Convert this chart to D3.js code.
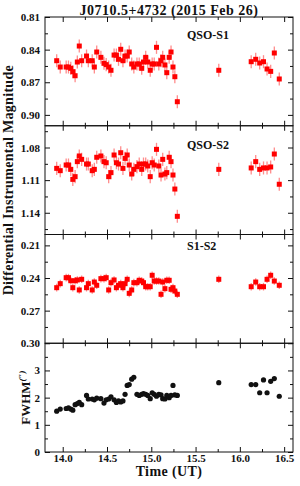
<!DOCTYPE html>
<meta charset="utf-8">
<head>
	<style>
		html, body { margin: 0; padding: 0; background: white; }
		svg text { font-family: "Liberation Serif", "DejaVu Serif", serif; font-weight: bold; fill: #111; }
		.domain { display: none; }
		.tick line { stroke: #111; stroke-width: 1; }
	</style>
	<script src="https://cdn.jsdelivr.net/npm/d3@7"></script>
</head>
<body>
<script>

// DATA
var time = [13.932, 13.972, 14.039, 14.065, 14.091, 14.114, 14.140, 14.165, 14.187, 14.214,
	14.269, 14.289, 14.333, 14.357, 14.384, 14.431, 14.466, 14.491, 14.519, 14.545,
	14.580, 14.606, 14.630, 14.655, 14.680, 14.704, 14.728, 14.751, 14.779, 14.803,
	14.838, 14.864, 14.892, 14.912, 14.937, 14.960, 14.988, 15.010, 15.033, 15.059,
	15.085, 15.110, 15.129, 15.154, 15.175, 15.202, 15.223, 15.245, 15.266, 15.294,
	15.762, 16.128, 16.179, 16.224, 16.267, 16.307, 16.348, 16.389, 16.445];

var qsoS1 = [0.8502, 0.8560, 0.8560, 0.8560, 0.8572, 0.8603, 0.8640, 0.8514, 0.8367, 0.8502,
	0.8459, 0.8502, 0.8502, 0.8560, 0.8422, 0.8471, 0.8526, 0.8538, 0.8560, 0.8590,
	0.8450, 0.8450, 0.8489, 0.8397, 0.8502, 0.8459, 0.8459, 0.8422, 0.8532, 0.8560,
	0.8532, 0.8532, 0.8572, 0.8514, 0.8471, 0.8514, 0.8590, 0.8532, 0.8532, 0.8379,
	0.8532, 0.8502, 0.8471, 0.8541, 0.8612, 0.8471, 0.8422, 0.8560, 0.8649, 0.8879,
	0.8590, 0.8511, 0.8489, 0.8523, 0.8511, 0.8578, 0.8600, 0.8431, 0.8670];

var qsoS2 = [1.0992, 1.1013, 1.0961, 1.0961, 1.1001, 1.1093, 1.1068, 1.0930, 1.0878, 1.0909,
	1.0952, 1.0952, 1.1013, 1.1001, 1.0890, 1.0878, 1.0930, 1.0940, 1.1068, 1.1031,
	1.0869, 1.0940, 1.0952, 1.0848, 1.0992, 1.0900, 1.0869, 1.0961, 1.1044, 1.1001,
	1.0976, 1.0952, 1.1001, 1.0952, 1.0952, 1.0970, 1.1068, 1.0940, 1.0961, 1.0817,
	1.0970, 1.1053, 1.0909, 1.1044, 1.1031, 1.0890, 1.0930, 1.1053, 1.1182, 1.1433,
	1.1001, 1.0988, 1.0930, 1.1001, 1.0988, 1.0988, 1.0979, 1.0860, 1.1138];

var s1s2 = [0.2489, 0.2452, 0.2397, 0.2397, 0.2425, 0.2489, 0.2425, 0.2418, 0.2510, 0.2412,
	0.2489, 0.2452, 0.2510, 0.2437, 0.2467, 0.2406, 0.2406, 0.2397, 0.2510, 0.2443,
	0.2418, 0.2489, 0.2467, 0.2452, 0.2489, 0.2452, 0.2412, 0.2541, 0.2510, 0.2443,
	0.2443, 0.2421, 0.2428, 0.2443, 0.2480, 0.2480, 0.2480, 0.2375, 0.2428, 0.2428,
	0.2428, 0.2550, 0.2437, 0.2498, 0.2421, 0.2421, 0.2504, 0.2489, 0.2520, 0.2550,
	0.2412, 0.2480, 0.2437, 0.2480, 0.2480, 0.2412, 0.2375, 0.2428, 0.2467];

var fwhm = [1.50, 1.58, 1.60, 1.62, 1.58, 1.54, 1.74, 1.78, 1.83, 1.74,
	2.08, 1.95, 1.95, 1.92, 1.98, 1.96, 1.80, 1.92, 1.95, 2.03,
	1.92, 1.82, 1.88, 1.84, 1.88, 2.12, 2.45, 2.48, 2.68, 2.75,
	2.12, 2.08, 2.12, 2.15, 2.12, 2.08, 1.96, 2.18, 2.12, 2.05,
	2.12, 2.10, 1.96, 1.95, 2.08, 2.00, 2.08, 2.45, 2.10, 2.08,
	2.55, 2.48, 2.48, 2.18, 2.65, 2.18, 2.60, 2.70, 2.05];

// typical photometric error per panel (mag)
var errS1 = 0.006, errS2 = 0.006, errS1S2 = 0.0035;

var xMajor = [14.0, 14.5, 15.0, 15.5, 16.0, 16.5],
	xMinor = [14.25, 14.75, 15.25, 15.75, 16.25];

var s1Major = [0.81, 0.84, 0.87, 0.90], s1Minor = [0.825, 0.855, 0.885];
var s2Major = [1.08, 1.11, 1.14], s2Minor = [1.065, 1.095, 1.125, 1.155];
var dMajor = [0.21, 0.24, 0.27, 0.30], dMinor = [0.225, 0.255, 0.285];
var fMajor = [0, 1, 2, 3], fMinor = [0.5, 1.5, 2.5, 3.5];

// SETUP
var W = 300, H = 486,
	plotLeft = 45, plotRight = 293, plotTop = 17, ph = 108.75;

var svg = d3.select('body').append('svg')
	.attr('width', W).attr('height', H);

var x = d3.scaleLinear().domain([13.8, 16.6]).range([plotLeft, plotRight]);

var panels = [
	{ vals: qsoS1, err: errS1, dom: [0.81, 0.91], major: s1Major, minor: s1Minor, fmt: '.2f', label: 'QSO-S1', ly: 22 },
	{ vals: qsoS2, err: errS2, dom: [1.06, 1.16], major: s2Major, minor: s2Minor, fmt: '.2f', label: 'QSO-S2', ly: 23 },
	{ vals: s1s2, err: errS1S2, dom: [0.20, 0.30], major: dMajor, minor: dMinor, fmt: '.2f', label: 'S1-S2', ly: 15 },
	{ vals: fwhm, err: null, dom: [0, 4], major: fMajor, minor: fMinor, fmt: 'd', label: null }
];

panels.forEach(function(p, i) {
	var y0 = plotTop + i * ph, y1 = y0 + ph;
	var y = i < 3
		? d3.scaleLinear().domain(p.dom).range([y0, y1])
		: d3.scaleLinear().domain(p.dom).range([y1, y0]);

	var g = svg.append('g');

	// ticks: left (labelled), right, top, bottom
	g.append('g').attr('transform', 'translate(' + plotLeft + ',0)')
		.call(d3.axisLeft(y).tickValues(p.major).tickSize(-5).tickPadding(5).tickFormat(d3.format(p.fmt)));
	g.append('g').attr('transform', 'translate(' + plotLeft + ',0)')
		.call(d3.axisLeft(y).tickValues(p.minor).tickSize(-3).tickFormat(''));
	g.append('g').attr('transform', 'translate(' + plotRight + ',0)')
		.call(d3.axisRight(y).tickValues(p.major).tickSize(-5).tickFormat(''));
	g.append('g').attr('transform', 'translate(' + plotRight + ',0)')
		.call(d3.axisRight(y).tickValues(p.minor).tickSize(-3).tickFormat(''));

	g.append('g').attr('transform', 'translate(0,' + y0 + ')')
		.call(d3.axisTop(x).tickValues(xMajor).tickSize(-5).tickFormat(''));
	g.append('g').attr('transform', 'translate(0,' + y0 + ')')
		.call(d3.axisTop(x).tickValues(xMinor).tickSize(-3).tickFormat(''));
	g.append('g').attr('transform', 'translate(0,' + y1 + ')')
		.call(d3.axisBottom(x).tickValues(xMajor).tickSize(-5).tickPadding(2)
			.tickFormat(i === 3 ? d3.format('.1f') : ''));
	g.append('g').attr('transform', 'translate(0,' + y1 + ')')
		.call(d3.axisBottom(x).tickValues(xMinor).tickSize(-3).tickFormat(''));

	g.selectAll('.tick text')
		.attr('fill', '#111')
		.attr('font-size', 11)
		.attr('font-family', null);

	// frame
	g.append('rect')
		.attr('x', plotLeft).attr('y', y0)
		.attr('width', plotRight - plotLeft).attr('height', ph)
		.attr('fill', 'none').attr('stroke', '#111').attr('stroke-width', 1);

	if (p.err !== null) {
		g.selectAll('.err')
			.data(p.vals).enter().append('line')
			.attr('class', 'err')
			.attr('x1', function(d, j) { return x(time[j]); })
			.attr('x2', function(d, j) { return x(time[j]); })
			.attr('y1', function(d) { return y(d - p.err); })
			.attr('y2', function(d) { return y(d + p.err); })
			.attr('stroke', '#ff8c8c').attr('stroke-width', 1.3);

		g.selectAll('.pt')
			.data(p.vals).enter().append('rect')
			.attr('class', 'pt')
			.attr('x', function(d, j) { return x(time[j]) - 2.5; })
			.attr('y', function(d) { return y(d) - 2.5; })
			.attr('width', 5).attr('height', 5)
			.attr('fill', '#ff0000');

		g.append('text')
			.attr('x', 187).attr('y', y0 + p.ly)
			.attr('font-size', 12)
			.text(p.label);
	} else {
		g.selectAll('.pt')
			.data(p.vals).enter().append('circle')
			.attr('cx', function(d, j) { return x(time[j]); })
			.attr('cy', function(d) { return y(d); })
			.attr('r', 2.6)
			.attr('fill', '#111');
	}
});

// TEXTS
svg.append('text')
	.attr('x', (plotLeft + plotRight) / 2).attr('y', 15)
	.attr('text-anchor', 'middle').attr('font-size', 14)
	.style('letter-spacing', '0.5px')
	.text('J0710.5+4732 (2015 Feb 26)');

svg.append('text')
	.attr('transform', 'translate(13,' + (plotTop + 1.5 * ph) + ') rotate(-90)')
	.attr('text-anchor', 'middle').attr('font-size', 14)
	.style('letter-spacing', '0.3px')
	.text('Differential Instrumental Magnitude');

var fl = svg.append('text')
	.attr('transform', 'translate(30,' + (plotTop + 3.5 * ph) + ') rotate(-90)')
	.attr('text-anchor', 'middle').attr('font-size', 13);
fl.append('tspan').text('FWHM');
fl.append('tspan').attr('font-size', 9).attr('dy', -5).style('font-style', 'italic').text('(\u2033)');

svg.append('text')
	.attr('x', (plotLeft + plotRight) / 2).attr('y', 476)
	.attr('text-anchor', 'middle').attr('font-size', 14)
	.style('letter-spacing', '0.4px')
	.text('Time (UT)');

</script>
</body>
